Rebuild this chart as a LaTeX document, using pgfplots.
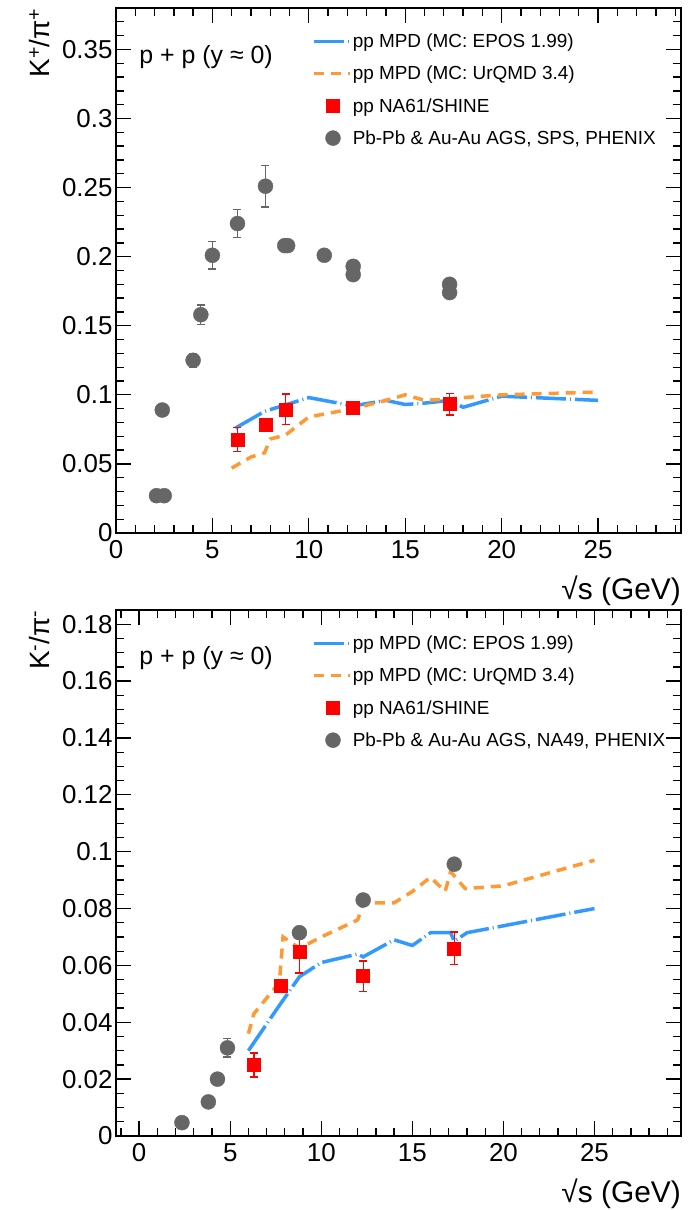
\documentclass[border=0pt]{standalone}
\usepackage{fontspec}
\setmainfont{Liberation Sans}
\usepackage{pgfplots}
\usepackage{pgfplotstable}
\pgfplotsset{compat=1.18}
\definecolor{eposblue}{RGB}{51,153,255}
\definecolor{urqorange}{RGB}{255,153,51}
\definecolor{dgrey}{RGB}{102,102,102}

% ---------- top panel data ----------
\pgfplotstableread{
x y
6.2 0.076
7.7 0.088
10 0.098
12.3 0.092
14 0.096
15 0.093
16 0.094
17.3 0.096
18 0.091
20 0.099
25 0.096
}\eposA
\pgfplotstableread{
x y
6.0 0.047
7.0 0.055
7.7 0.058
8.0 0.068
8.8 0.071
10 0.084
12.3 0.090
14 0.096
15 0.100
16 0.096
17.3 0.097
18 0.098
20 0.100
25 0.102
}\urqA
\pgfplotstableread{
x y ey
6.3 0.0677 0.0085
7.75 0.0786 0.003
8.8 0.0895 0.011
12.3 0.0907 0.002
17.3 0.0932 0.0077
}\naA
\pgfplotstableread{
x y ey
2.1 0.027 0
2.5 0.027 0
2.4 0.089 0
4.0 0.125 0.005
4.4 0.158 0.007
5.0 0.201 0.010
6.3 0.224 0.010
7.75 0.251 0.015
8.75 0.208 0.002
8.9 0.208 0.002
10.8 0.201 0.003
12.3 0.193 0
12.3 0.187 0
17.3 0.180 0
17.3 0.174 0
}\hiA
% ---------- bottom panel data ----------
\pgfplotstableread{
x y
6.0 0.030
7.6 0.045
8.8 0.056
10 0.061
12.0 0.064
12.3 0.063
14 0.069
15 0.067
16 0.0715
17.1 0.0715
17.3 0.0685
18 0.0715
25 0.080
}\eposB
\pgfplotstableread{
x y
6.0 0.036
6.3 0.043
7.7 0.054
7.9 0.070
8.8 0.066
10 0.070
12.0 0.076
12.3 0.082
14 0.082
15 0.086
16 0.091
16.8 0.086
17.1 0.093
17.9 0.087
20 0.088
25 0.097
}\urqB
\pgfplotstableread{
x y ey
6.3 0.025 0.0042
7.75 0.0527 0.002
8.8 0.0648 0.0075
12.3 0.0562 0.0053
17.3 0.066 0.0057
}\naB
\pgfplotstableread{
x y ey
2.35 0.0047 0
3.8 0.012 0
4.3 0.020 0
4.85 0.031 0.0032
8.8 0.0715 0
12.3 0.083 0
17.3 0.0956 0
}\hiB

\pgfplotsset{
  rootstyle/.style={
    scale only axis, width=565bp,
    tick align=inside,
    major tick length=15bp, minor tick length=8bp,
    axis line style={line width=1.6bp},
    every tick/.style={black, line width=1.3bp},
    tick label style={font=\fontsize{26}{30}\selectfont},
    xticklabel style={yshift=-4bp},
    /pgf/number format/assume math mode=true,
    scaled y ticks=false,
    yticklabel style={/pgf/number format/fixed, /pgf/number format/precision=2},
    xtick={0,5,...,25},
    minor xtick={-1,0,...,29},
    xlabel={√s (GeV)},
    xlabel style={font=\fontsize{30}{34}\selectfont, at={(axis description cs:1,0)}, anchor=north east, yshift=-43bp, inner sep=0pt},
    ylabel style={font=\fontsize{28}{32}\selectfont, at={(axis description cs:-0.135,1)}, anchor=east, inner sep=0pt},
    legend style={at={(axis description cs:0.347,0.953)}, anchor=north west, draw=none, fill=none,
      font=\fontsize{19}{22}\selectfont, row sep=15bp, inner sep=0pt, nodes={inner sep=1bp}},
    legend cell align=left,
  },
  lineleg/.style={legend image code/.code={\draw[##1] (0bp,0bp) -- (36bp,0bp);}},
  markleg/.style={legend image code/.code={\draw[##1] plot coordinates {(19bp,0bp)};}},
  eposline/.style={color=eposblue, line width=3.5bp, dash pattern=on 30bp off 4bp on 1bp off 4bp, no markers, lineleg},
  urqline/.style={color=urqorange, line width=3.5bp, dash pattern=on 10bp off 7bp, no markers, lineleg},
  na61/.style={only marks, mark=square*, mark size=6.5bp, color=red, mark options={fill=red, draw=red, line width=0.5bp}, markleg,
     error bars/.cd, y dir=both, y explicit, error bar style={line width=1.3bp, red}, error mark options={rotate=90, mark size=4bp, line width=1.3bp, red}},
  hidat/.style={only marks, mark=*, mark size=7.5bp, color=dgrey, mark options={fill=dgrey, draw=dgrey}, markleg,
     error bars/.cd, y dir=both, y explicit, error bar style={line width=1.3bp, dgrey}, error mark options={rotate=90, mark size=4bp, line width=1.3bp, dgrey}},
}

\begin{document}
\begin{tikzpicture}
\useasboundingbox (0,0) rectangle (689bp,1210bp);

% ================= top panel =================
\begin{axis}[rootstyle,
  at={(116bp,677bp)}, anchor=south west,
  height=525bp,
  xmin=0, xmax=29.3, ymin=0, ymax=0.38,
  ytick={0,0.05,...,0.351},
  minor ytick={0,0.01,...,0.381},
  ylabel={K\textsuperscript{+}/π\textsuperscript{+}},
]
\addplot[eposline] table[x=x,y=y] {\eposA};
\addlegendentry{pp MPD (MC: EPOS 1.99)}
\addplot[urqline] table[x=x,y=y] {\urqA};
\addlegendentry{pp MPD (MC: UrQMD 3.4)}
\addplot[na61] table[x=x,y=y,y error=ey] {\naA};
\addlegendentry{pp NA61/SHINE}
\addplot[hidat] table[x=x,y=y,y error=ey] {\hiA};
\addlegendentry{Pb-Pb \& Au-Au AGS, SPS, PHENIX}
\node[anchor=west, font=\fontsize{25}{29}\selectfont, inner sep=0pt] at (axis description cs:0.041,0.907) {p + p (y ≈ 0)};
\end{axis}

% ================= bottom panel =================
\begin{axis}[rootstyle,
  at={(116bp,74bp)}, anchor=south west,
  height=526bp,
  xmin=-1.27, xmax=29.75, ymin=0, ymax=0.185,
  ytick={0,0.02,...,0.181},
  minor ytick={0,0.005,...,0.186},
  ylabel={K\textsuperscript{-}/π\textsuperscript{-}},
]
\addplot[eposline] table[x=x,y=y] {\eposB};
\addlegendentry{pp MPD (MC: EPOS 1.99)}
\addplot[urqline] table[x=x,y=y] {\urqB};
\addlegendentry{pp MPD (MC: UrQMD 3.4)}
\addplot[na61] table[x=x,y=y,y error=ey] {\naB};
\addlegendentry{pp NA61/SHINE}
\addplot[hidat] table[x=x,y=y,y error=ey] {\hiB};
\addlegendentry{Pb-Pb \& Au-Au AGS, NA49, PHENIX}
\node[anchor=west, font=\fontsize{25}{29}\selectfont, inner sep=0pt] at (axis description cs:0.041,0.909) {p + p (y ≈ 0)};
\end{axis}
\end{tikzpicture}
\end{document}
